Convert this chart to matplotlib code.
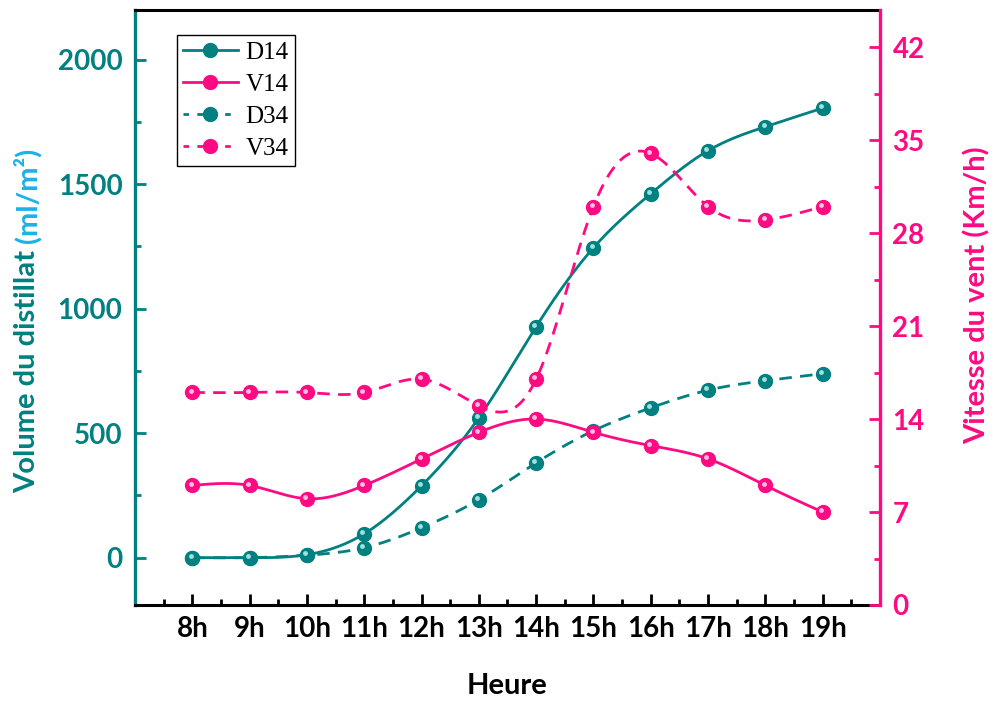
import numpy as np
import matplotlib
matplotlib.use('Agg')
import matplotlib.pyplot as plt
from matplotlib.lines import Line2D
from matplotlib import transforms

hours = [8, 9, 10, 11, 12, 13, 14, 15, 16, 17, 18, 19]
hour_labels = ['8h', '9h', '10h', '11h', '12h', '13h', '14h', '15h', '16h', '17h', '18h', '19h']
d14 = [0, 0, 12, 96, 289, 562, 928, 1245, 1462, 1635, 1731, 1806]
d34 = [0, 0, 10, 40, 120, 233, 381, 510, 602, 673, 711, 739]
v14 = [9, 9, 8, 9, 11, 13, 14, 13, 12, 11, 9, 7]
v34 = [16, 16, 16, 16, 17, 15, 17, 30, 34, 30, 29, 30]

teal = '#008080'
pink = '#ff0a82'
blue = '#1ab2e8'
teal_hi = '#9fe0de'
pink_hi = '#ffc0de'

plt.rcParams['font.family'] = ['Lato', 'DejaVu Sans']
plt.rcParams['font.weight'] = 'bold'
plt.rcParams['axes.labelweight'] = 'bold'


def spline(x, y, n=400):
    # natural cubic spline, just for drawing the smooth curve
    x = np.asarray(x, float)
    y = np.asarray(y, float)
    k = len(x)
    h = np.diff(x)
    A = np.zeros((k, k))
    b = np.zeros(k)
    A[0, 0] = A[-1, -1] = 1
    for i in range(1, k - 1):
        A[i, i - 1] = h[i - 1]
        A[i, i] = 2 * (h[i - 1] + h[i])
        A[i, i + 1] = h[i]
        b[i] = 6 * ((y[i + 1] - y[i]) / h[i] - (y[i] - y[i - 1]) / h[i - 1])
    M = np.linalg.solve(A, b)
    xs = np.linspace(x[0], x[-1], n)
    j = np.clip(np.searchsorted(x, xs) - 1, 0, k - 2)
    t1 = x[j + 1] - xs
    t0 = xs - x[j]
    hj = h[j]
    ys = (M[j] * t1 ** 3 / (6 * hj) + M[j + 1] * t0 ** 3 / (6 * hj)
          + (y[j] / hj - M[j] * hj / 6) * t1 + (y[j + 1] / hj - M[j + 1] * hj / 6) * t0)
    return xs, ys


fig = plt.figure(figsize=(9.95, 7.08), dpi=100)
ax = fig.add_axes([0.1357, 0.1455, 0.7487, 0.8404])
ax2 = ax.twinx()


def draw(a, y, color, hi, ls):
    xs, ys = spline(hours, y)
    a.plot(xs, ys, color=color, lw=2.0, ls=ls, dashes=(4.5, 3) if ls == '--' else (None, None))
    a.plot(hours, y, 'o', ms=10, color=color, mec=color)
    off = transforms.offset_copy(a.transData, fig=fig, x=-1.8, y=1.8, units='dots')
    a.plot(hours, y, 'o', ms=3.5, color=hi, mec='none', transform=off)


draw(ax, d14, teal, teal_hi, '-')
draw(ax, d34, teal, teal_hi, '--')
draw(ax2, v14, pink, pink_hi, '-')
draw(ax2, v34, pink, pink_hi, '--')

ax.set_xlim(7, 20)
ax.set_ylim(-190, 2200)
ax2.set_ylim(0, 44.8)

ax.set_xticks(hours)
ax.set_xticklabels(hour_labels)
ax.set_xticks(np.arange(7.5, 20, 1), minor=True)
ax.set_yticks([0, 500, 1000, 1500, 2000])
ax.set_yticks([250, 750, 1250, 1750], minor=True)
ax2.set_yticks([0, 7, 14, 21, 28, 35, 42])
ax2.set_yticks([3.5, 10.5, 17.5, 24.5, 31.5, 38.5], minor=True)

fs = 20
ax.tick_params(axis='x', which='both', direction='in', color='black', labelcolor='black',
               labelsize=fs, width=2, pad=8)
ax.tick_params(axis='x', which='major', length=8)
ax.tick_params(axis='x', which='minor', length=4)
ax.tick_params(axis='y', which='both', direction='in', color=teal, labelcolor=teal,
               labelsize=fs, width=2, pad=9)
ax.tick_params(axis='y', which='major', length=8)
ax.tick_params(axis='y', which='minor', length=4)
ax2.tick_params(axis='y', which='both', direction='in', color=pink, labelcolor=pink,
                labelsize=fs, width=2, pad=9)
ax2.tick_params(axis='y', which='major', length=8)
ax2.tick_params(axis='y', which='minor', length=4)

for s in ['top', 'bottom']:
    ax.spines[s].set_linewidth(2.2)
    ax.spines[s].set_color('black')
ax.spines['left'].set_linewidth(2.4)
ax.spines['left'].set_color(teal)
ax.spines['right'].set_visible(False)
for s in ['top', 'bottom', 'left']:
    ax2.spines[s].set_visible(False)
ax2.spines['right'].set_linewidth(2.4)
ax2.spines['right'].set_color(pink)

ax.set_xlabel('Heure', fontsize=21, fontweight='bold', labelpad=22)

# two-colour left label
t1 = fig.text(27 / 995, 0.5, 'Volume du distillat', rotation=90, rotation_mode='anchor',
              ha='left', va='center', fontsize=21, color=teal)
t2 = fig.text(27 / 995, 0.5, '(ml/m²)', rotation=90, rotation_mode='anchor',
              ha='left', va='center', fontsize=21, color=blue)
fig.canvas.draw()
l1 = t1.get_window_extent().height
l2 = t2.get_window_extent().height
gap = 7
total = l1 + gap + l2
mid = 708 - 320
start = mid - total / 2
t1.set_position((27 / 995, start / 708))
t2.set_position((27 / 995, (start + l1 + gap) / 708))

fig.text(977 / 995, 1 - 295 / 708, 'Vitesse du vent (Km/h)', rotation=90, ha='center',
         va='center', fontsize=21, color=pink)

handles = [
    Line2D([], [], color=teal, lw=2, marker='o', ms=10),
    Line2D([], [], color=pink, lw=2, marker='o', ms=10),
    Line2D([], [], color=teal, lw=2, ls='--', dashes=(2, 3), marker='o', ms=10),
    Line2D([], [], color=pink, lw=2, ls='--', dashes=(2, 3), marker='o', ms=10),
]
leg = ax.legend(handles, ['D14', 'V14', 'D34', 'V34'], loc='upper left',
                bbox_to_anchor=(0.056, 0.958), borderaxespad=0, fancybox=False, framealpha=1,
                edgecolor='black', handlelength=2.2, labelspacing=0.38,
                borderpad=0.25, handletextpad=0.3,
                prop={'family': 'Liberation Serif', 'size': 18, 'weight': 'normal'})
leg.get_frame().set_linewidth(1.0)

fig.savefig('out.png', dpi=100)
